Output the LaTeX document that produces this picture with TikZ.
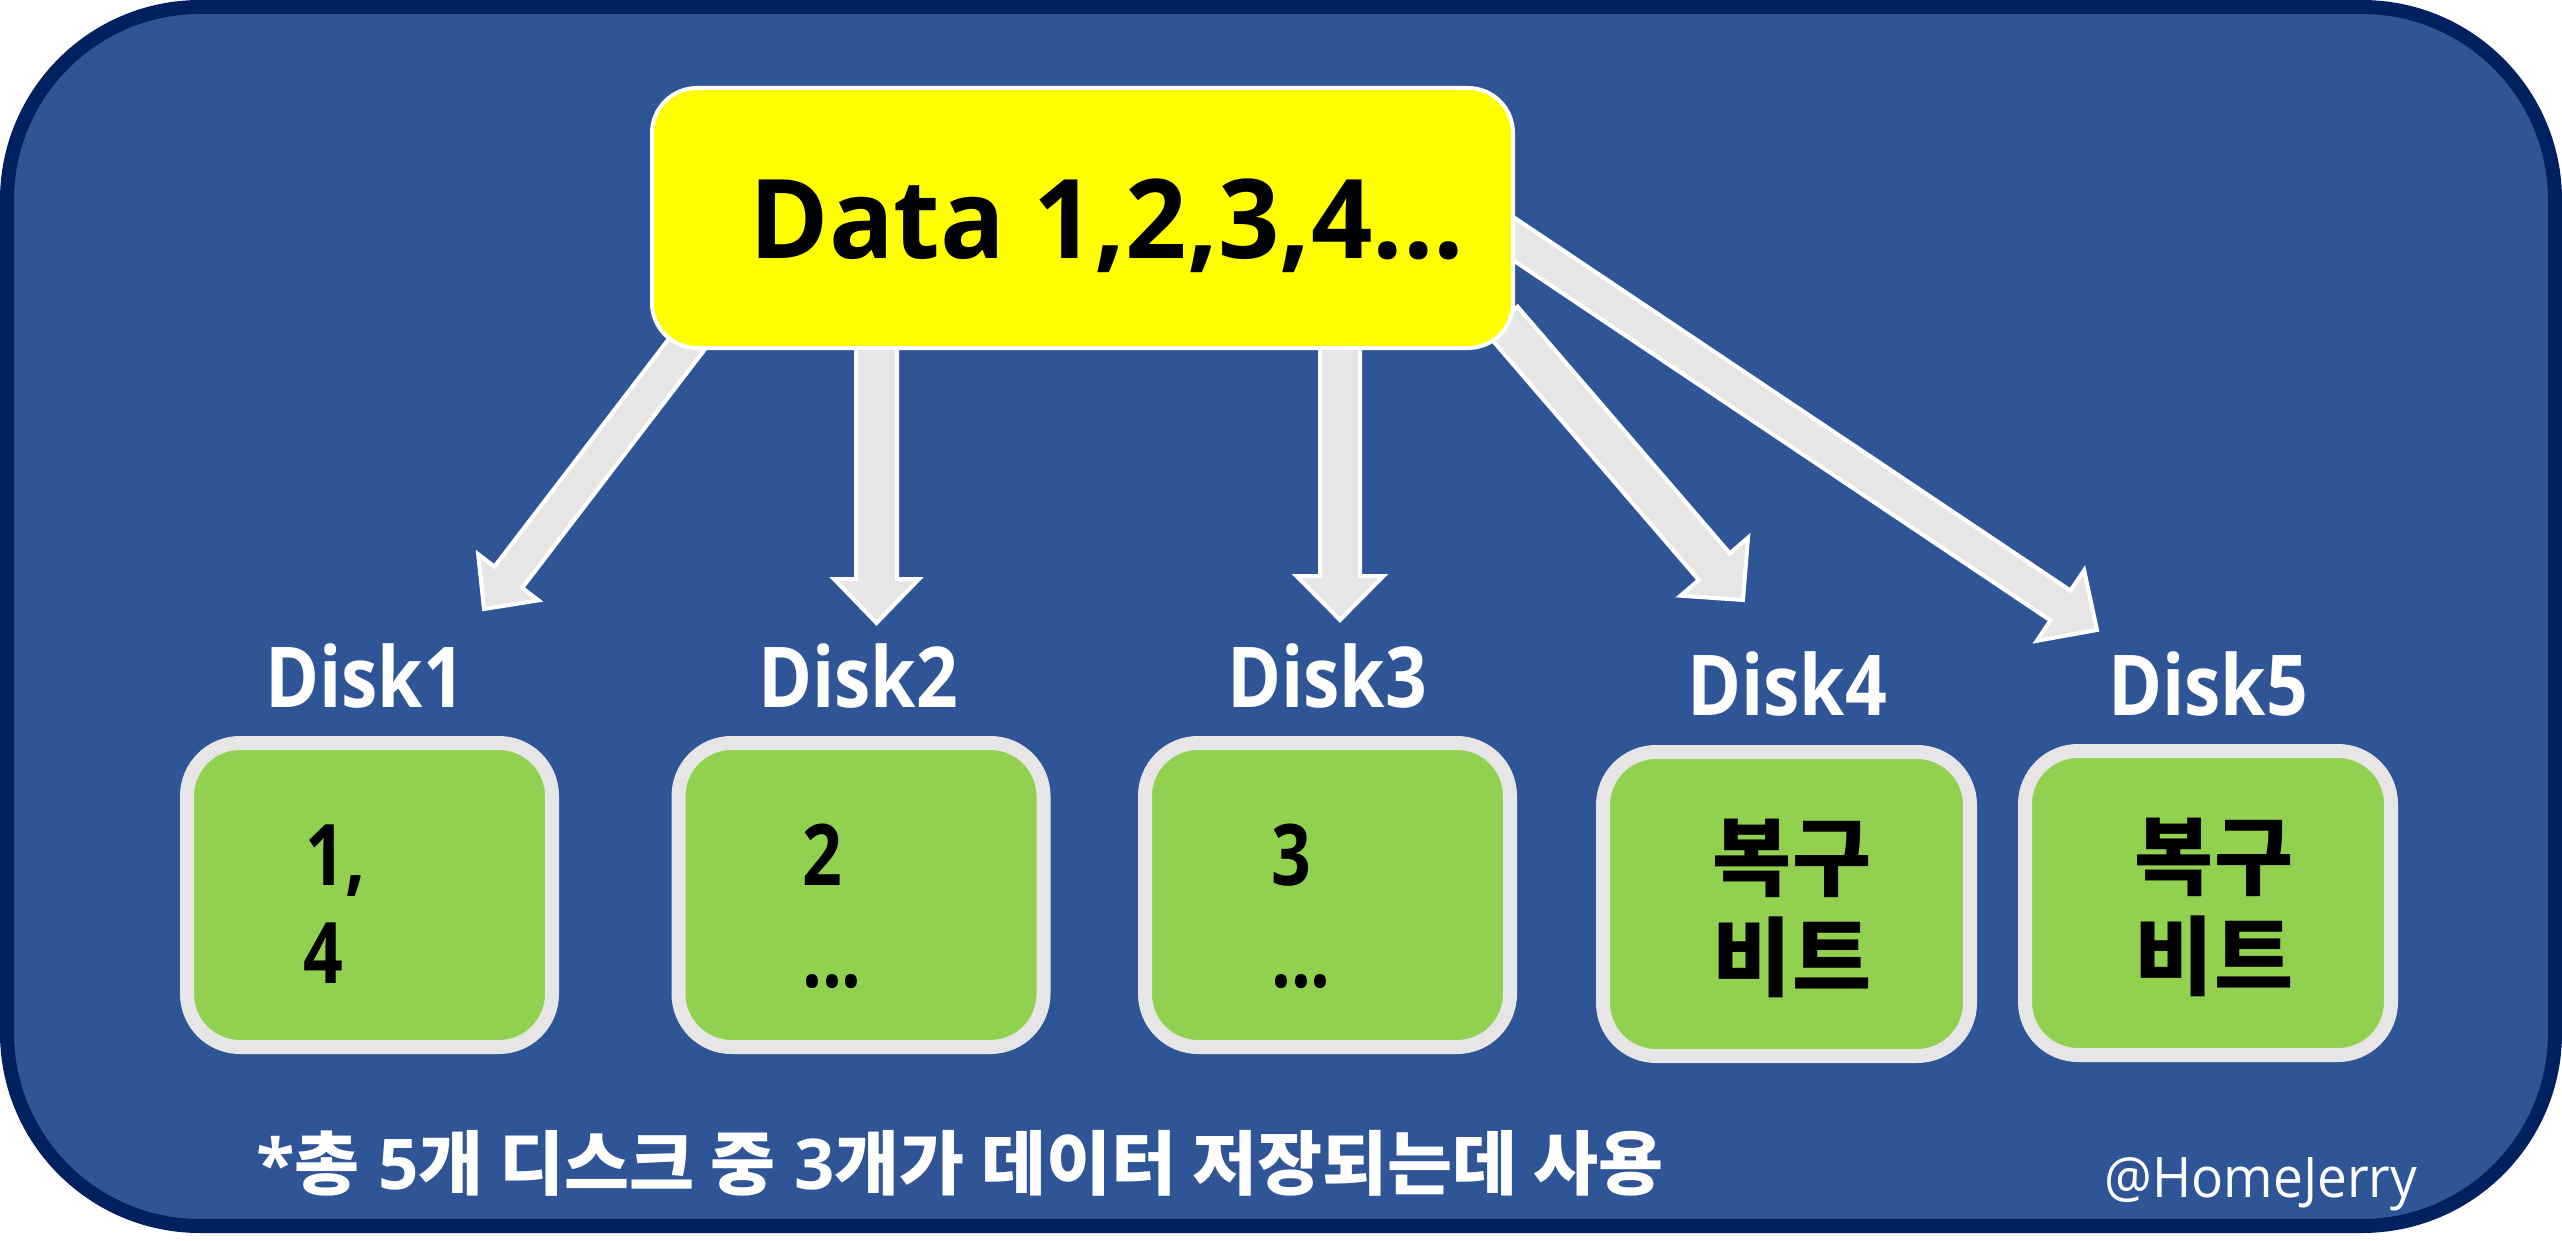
\documentclass[tikz,border=0pt]{standalone}
\usepackage{graphicx}
\usepackage{fontspec}
\setmainfont{Open Sans}[Numbers=Lining]
\newfontfamily\kor{Noto Sans CJK KR}
\usetikzlibrary{calc}
\definecolor{bgblue}{HTML}{2F5597}
\definecolor{navyline}{HTML}{002060}
\definecolor{diskgreen}{HTML}{92D050}
\definecolor{lgray}{HTML}{E6E6E6}
\definecolor{hiyellow}{HTML}{FFFF00}
\newcommand\blockarrow[5]{%
  \coordinate (ba-h) at ($(#2)!#5!(#1)$);
  \draw[blockarrowstyle] ($(#1)!#3!90:(#2)$) -- ($(ba-h)!#3!90:(#2)$) -- ($(ba-h)!#4!90:(#2)$) -- (#2)
     -- ($(ba-h)!#4!-90:(#2)$) -- ($(ba-h)!#3!-90:(#2)$) -- ($(#1)!#3!-90:(#2)$) -- cycle;
}
\newcommand\sx[2]{\scalebox{#1}[1]{#2}}
\tikzset{
  blockarrowstyle/.style={fill=lgray, draw=white, line width=4pt, line join=miter},
  databox/.style={draw=white, fill=hiyellow, line width=4pt, rounded corners=45pt,
     minimum width=861pt, minimum height=260pt, inner sep=0pt},
  diskbox/.style={draw=lgray, fill=diskgreen, line width=14pt, rounded corners=53pt,
     minimum width=365pt, minimum height=304pt, inner sep=0pt},
  disklabel/.style={text=white, font=\bfseries\fontsize{84}{90}\selectfont, anchor=base, inner sep=0pt},
  boxtext/.style={text=black, font=\bfseries\fontsize{85}{90}\selectfont, anchor=base west, inner sep=0pt},
  kortext/.style={text=black, font=\kor\bfseries\fontsize{86}{90}\selectfont, anchor=center, inner sep=0pt},
}
\begin{document}
\begin{tikzpicture}[x=1pt,y=-1pt]
\useasboundingbox (0,0) rectangle (2562,1241);
\fill[white] (0,0) rectangle (2562,1241);
\draw[line width=14pt, draw=navyline, fill=bgblue, rounded corners=193pt] (7,7) rectangle (2555,1226);

% arrows
\coordinate (S1) at (690,340);   \coordinate (T1) at (484,609);
\coordinate (S2) at (876.5,330); \coordinate (T2) at (876.5,623);
\coordinate (S3) at (1340,330);  \coordinate (T3) at (1340,620);
\coordinate (S4) at (1502,320);  \coordinate (T4) at (1743,600);
\coordinate (S5) at (1481,217);  \coordinate (T5) at (2097,630);
\blockarrow{S1}{T1}{17.5pt}{38pt}{40pt}
\blockarrow{S2}{T2}{20.5pt}{42.5pt}{44pt}
\blockarrow{S3}{T3}{20pt}{43.5pt}{44pt}
\blockarrow{S4}{T4}{20.5pt}{44.5pt}{44pt}
\blockarrow{S5}{T5}{18pt}{42.5pt}{44pt}

% data box
\node[databox] (data) at (1082.5,218) {};
\node[text=black, font=\bfseries\fontsize{84}{90}\selectfont, anchor=base, inner sep=0pt] (datatext) at (1107,259)
  {\scalebox{1.28}[1.31]{Data 1,2,3,4...}};

% disk labels
\node[disklabel] (l1) at (365,707) {\sx{0.87}{Disk1}};
\node[disklabel] (l2) at (858,707) {\sx{0.87}{Disk2}};
\node[disklabel] (l3) at (1327,707) {\sx{0.87}{Disk3}};
\node[disklabel] (l4) at (1787,715) {\sx{0.87}{Disk4}};
\node[disklabel] (l5) at (2208,715) {\sx{0.87}{Disk5}};

% disk boxes
\node[diskbox] (d1) at (369.5,895) {};
\node[diskbox] (d2) at (861,895) {};
\node[diskbox] (d3) at (1327.5,895) {};
\node[diskbox, minimum width=367pt] (d4) at (1786.5,904) {};
\node[diskbox, minimum width=366pt] (d5) at (2208,903) {};

\node[boxtext] (t1a) at (305,885) {\sx{0.82}{1,}};
\node[boxtext] (t1b) at (303,983) {\sx{0.82}{4}};
\node[boxtext] (t2a) at (802,885) {\sx{0.82}{2}};
\node[boxtext] (t2b) at (802,987) {\sx{0.82}{...}};
\node[boxtext] (t3a) at (1271,885) {\sx{0.82}{3}};
\node[boxtext] (t3b) at (1271,987) {\sx{0.82}{...}};
\node[kortext] (t4a) at (1792,858) {복구};
\node[kortext] (t4b) at (1792,957) {비트};
\node[kortext] (t5a) at (2214,857) {복구};
\node[kortext] (t5b) at (2214,956) {비트};

% footnote
\node[text=white, font=\bfseries\fontsize{70}{74}\selectfont, anchor=west, inner sep=0pt] (note) at (256,1163)
  {\sx{1.01}{*{\kor 총} 5{\kor 개 디스크 중} 3{\kor 개가 데이터 저장되는데 사용}}};
\node[text=white, font=\fontsize{56}{60}\selectfont, anchor=base, inner sep=0pt] (credit) at (2261,1197) {\sx{0.95}{@HomeJerry}};
\end{tikzpicture}
\end{document}
